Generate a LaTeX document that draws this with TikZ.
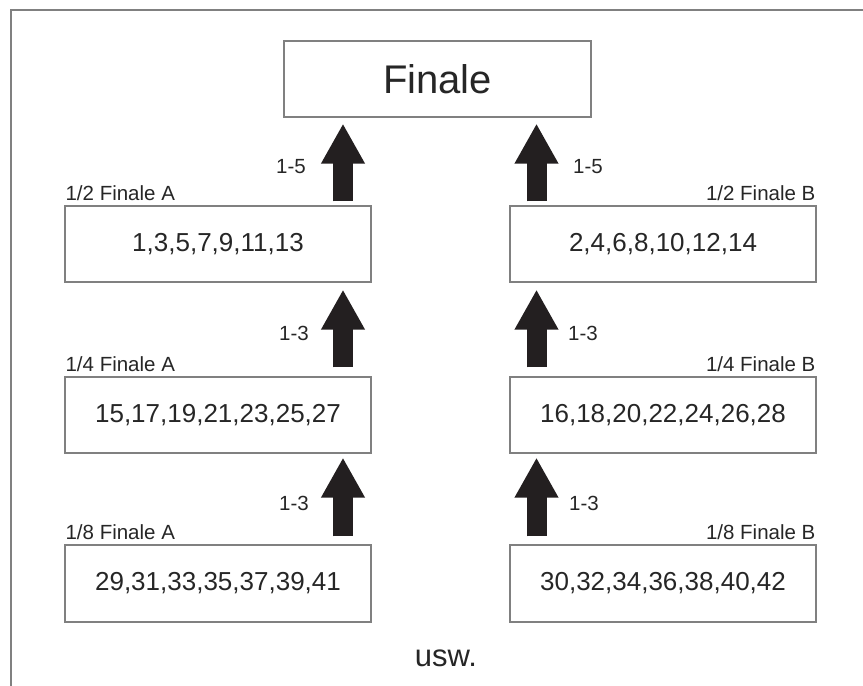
\documentclass[tikz,border=0pt]{standalone}
\usepackage{fontspec}
\setmainfont{Liberation Sans}
\usetikzlibrary{arrows.meta,calc}
\definecolor{txt}{HTML}{262626}
\definecolor{edge}{HTML}{808080}
\definecolor{arr}{HTML}{231F20}
\tikzset{
  box/.style={draw=edge, line width=1.2pt, minimum width=306pt, minimum height=76pt, inner sep=0pt, text=txt, font=\fontsize{26}{30}\selectfont},
  lbl/.style={text=txt, inner sep=0pt, font=\fontsize{20.5}{24}\selectfont},
  bigarrow/.style={draw=arr, line width=20pt, -{Triangle[width=41pt,length=40pt,fill=arr]}}
}
\begin{document}
\begin{tikzpicture}[x=1pt,y=-1pt]
\useasboundingbox (0,0) rectangle (863,686);
\draw[edge, line width=1.5pt] (11,686) -- (11,10) -- (863,10);

\node[box, minimum width=307pt, font=\fontsize{40}{46}\selectfont] (fin) at (437.5,79) {Finale};
\node[box] (hA) at (218,244) {1,3,5,7,9,11,13};
\node[box] (hB) at (663,244) {2,4,6,8,10,12,14};
\node[box] (qA) at (218,415) {15,17,19,21,23,25,27};
\node[box] (qB) at (663,415) {16,18,20,22,24,26,28};
\node[box, minimum height=77pt] (eA) at (218,583.5) {29,31,33,35,37,39,41};
\node[box, minimum height=77pt] (eB) at (663,583.5) {30,32,34,36,38,40,42};

\node[lbl, anchor=base west] (lhA) at ([xshift=1pt,yshift=5pt]hA.north west) {1/2 Finale A};
\node[lbl, anchor=base east] (lhB) at ([xshift=-1pt,yshift=5pt]hB.north east) {1/2 Finale B};
\node[lbl, anchor=base west] (lqA) at ([xshift=1pt,yshift=5pt]qA.north west) {1/4 Finale A};
\node[lbl, anchor=base east] (lqB) at ([xshift=-1pt,yshift=5pt]qB.north east) {1/4 Finale B};
\node[lbl, anchor=base west] (leA) at ([xshift=1pt,yshift=5pt]eA.north west) {1/8 Finale A};
\node[lbl, anchor=base east] (leB) at ([xshift=-1pt,yshift=5pt]eB.north east) {1/8 Finale B};

\coordinate (xl) at (343,0);
\coordinate (xr) at (536.5,0);

\draw[bigarrow] ([yshift=4pt]hA.north -| xl) -- ([yshift=-6pt]fin.south -| xl);
\draw[bigarrow] ([yshift=4pt]hB.north -| xr) -- ([yshift=-6pt]fin.south -| xr);
\draw[bigarrow] ([yshift=9pt]qA.north -| xl) -- ([yshift=-7pt]hA.south -| xl);
\draw[bigarrow] ([yshift=9pt]qB.north -| xr) -- ([yshift=-7pt]hB.south -| xr);
\draw[bigarrow] ([yshift=8pt]eA.north -| xl) -- ([yshift=-4pt]qA.south -| xl);
\draw[bigarrow] ([yshift=8pt]eB.north -| xr) -- ([yshift=-4pt]qB.south -| xr);

\node[lbl, anchor=east] (n1) at (306,167) {1-5};
\node[lbl, anchor=west] (n2) at (573,167) {1-5};
\node[lbl, anchor=east] (n3) at (309,333) {1-3};
\node[lbl, anchor=west] (n4) at (568,333) {1-3};
\node[lbl, anchor=east] (n5) at (309,503) {1-3};
\node[lbl, anchor=west] (n6) at (569,503) {1-3};

\node[text=txt, inner sep=0pt, anchor=base, font=\fontsize{31}{36}\selectfont] (usw) at (446,666) {usw.};
\end{tikzpicture}
\end{document}
